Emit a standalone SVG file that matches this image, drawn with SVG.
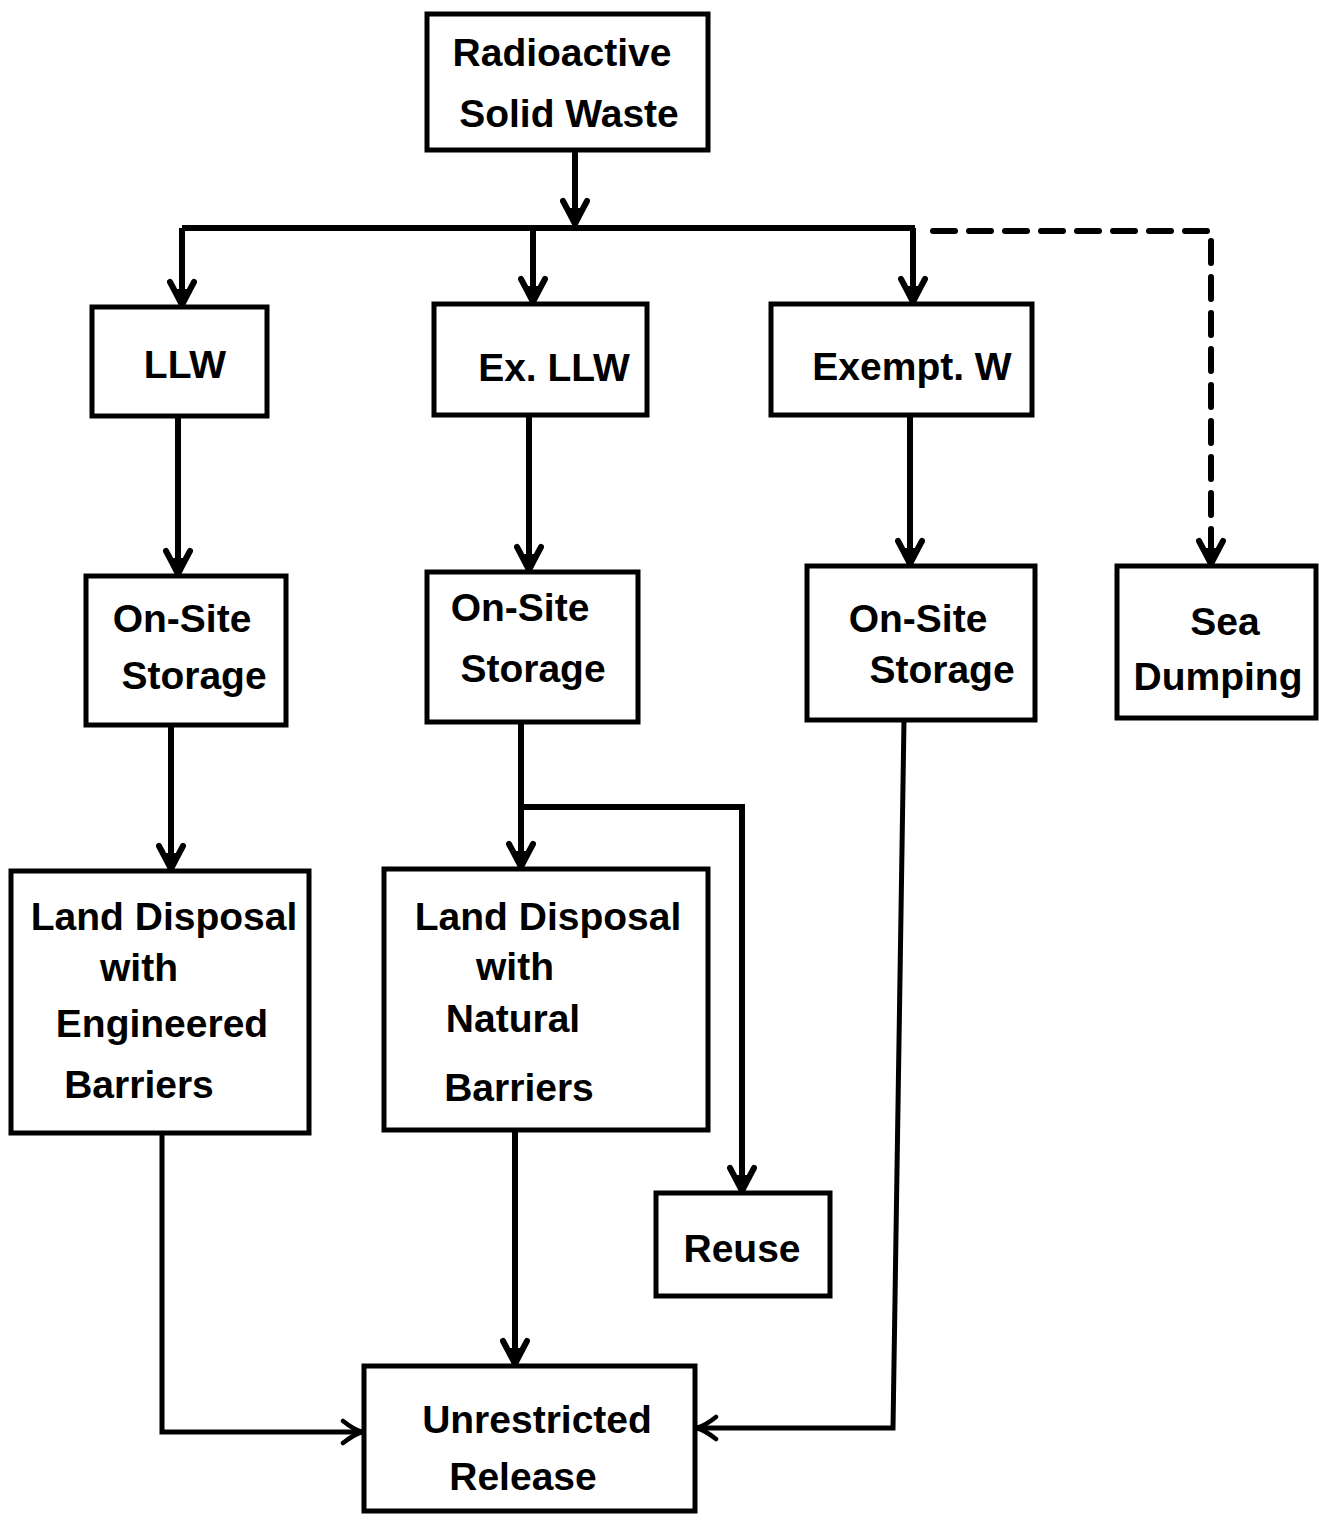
<svg xmlns="http://www.w3.org/2000/svg" width="1319" height="1523" viewBox="0 0 1319 1523">
<style>
.box{fill:#fff;stroke:#000;stroke-width:5}
.t{font-family:"Liberation Sans",Arial,sans-serif;font-weight:bold;font-size:39px;fill:#000;text-anchor:middle}
.ln{fill:none;stroke:#000;stroke-width:6;stroke-linejoin:miter}
.dash{fill:none;stroke:#000;stroke-width:6;stroke-dasharray:22,14;stroke-linecap:round}
.thin{fill:none;stroke:#000;stroke-width:5}
</style>
<defs>
<marker id="ah" markerUnits="userSpaceOnUse" viewBox="0 0 30 30" refX="28" refY="15" markerWidth="30" markerHeight="30" orient="auto">
<path d="M5,3 Q18,10 28,15 Q18,20 5,27" fill="none" stroke="#000" stroke-width="6" stroke-linecap="round"/>
<path d="M12,8 L29,15 L12,22 Z" fill="#000"/>
</marker>
<marker id="oh" markerUnits="userSpaceOnUse" viewBox="0 0 30 30" refX="27" refY="15" markerWidth="30" markerHeight="30" orient="auto">
<path d="M8,4 Q18,12 27,15 Q18,18 8,26" fill="none" stroke="#000" stroke-width="4.5" stroke-linecap="round"/>
</marker>
</defs>
<rect width="1319" height="1523" fill="#fff"/>
<g id="connectors">
<path class="ln" d="M575,150 V224" marker-end="url(#ah)"/>
<path class="ln" d="M182,228 H915"/>
<path class="ln" d="M182,228 V305" marker-end="url(#ah)"/>
<path class="ln" d="M533,228 V302" marker-end="url(#ah)"/>
<path class="ln" d="M913,228 V302" marker-end="url(#ah)"/>
<path class="dash" d="M933,231 H1211 V540"/>
<path class="ln" d="M1211,540 V564" marker-end="url(#ah)"/>
<path class="ln" d="M178,416 V574" marker-end="url(#ah)"/>
<path class="ln" d="M529,415 V570" marker-end="url(#ah)"/>
<path class="ln" d="M910,415 V564" marker-end="url(#ah)"/>
<path class="ln" d="M171,725 V869" marker-end="url(#ah)"/>
<path class="ln" d="M521,722 V867" marker-end="url(#ah)"/>
<path class="ln" d="M521,807 H742 V1191" marker-end="url(#ah)"/>
<path class="ln" d="M515,1130 V1364" marker-end="url(#ah)"/>
<path class="thin" d="M162,1133 V1432 H362" marker-end="url(#oh)"/>
<path class="thin" d="M904,720 L893,1428 H697" marker-end="url(#oh)"/>
</g>
<g id="n_radioactive"><rect class="box" x="427" y="14" width="281" height="136"/><text class="t" x="562" y="66">Radioactive</text><text class="t" x="569" y="127">Solid Waste</text></g>
<g id="n_llw"><rect class="box" x="92" y="307" width="175" height="109"/><text class="t" x="185" y="378">LLW</text></g>
<g id="n_exllw"><rect class="box" x="434" y="304" width="213" height="111"/><text class="t" x="554" y="381">Ex. LLW</text></g>
<g id="n_exempt"><rect class="box" x="771" y="304" width="261" height="111"/><text class="t" x="912" y="380">Exempt. W</text></g>
<g id="n_storage1"><rect class="box" x="86" y="576" width="200" height="149"/><text class="t" x="182" y="632">On-Site</text><text class="t" x="194" y="689">Storage</text></g>
<g id="n_storage2"><rect class="box" x="427" y="572" width="211" height="150"/><text class="t" x="520" y="621">On-Site</text><text class="t" x="533" y="682">Storage</text></g>
<g id="n_storage3"><rect class="box" x="807" y="566" width="228" height="154"/><text class="t" x="918" y="632">On-Site</text><text class="t" x="942" y="683">Storage</text></g>
<g id="n_sea"><rect class="box" x="1117" y="566" width="199" height="152"/><text class="t" x="1225" y="635">Sea</text><text class="t" x="1218" y="690">Dumping</text></g>
<g id="n_land1"><rect class="box" x="11" y="871" width="298" height="262"/><text class="t" x="164" y="930">Land Disposal</text><text class="t" x="139" y="981">with</text><text class="t" x="162" y="1037">Engineered</text><text class="t" x="139" y="1098">Barriers</text></g>
<g id="n_land2"><rect class="box" x="384" y="869" width="324" height="261"/><text class="t" x="548" y="930">Land Disposal</text><text class="t" x="515" y="980">with</text><text class="t" x="513" y="1032">Natural</text><text class="t" x="519" y="1101">Barriers</text></g>
<g id="n_reuse"><rect class="box" x="656" y="1193" width="174" height="103"/><text class="t" x="742" y="1262">Reuse</text></g>
<g id="n_release"><rect class="box" x="364" y="1366" width="331" height="145"/><text class="t" x="537" y="1433">Unrestricted</text><text class="t" x="523" y="1490">Release</text></g>
</svg>
